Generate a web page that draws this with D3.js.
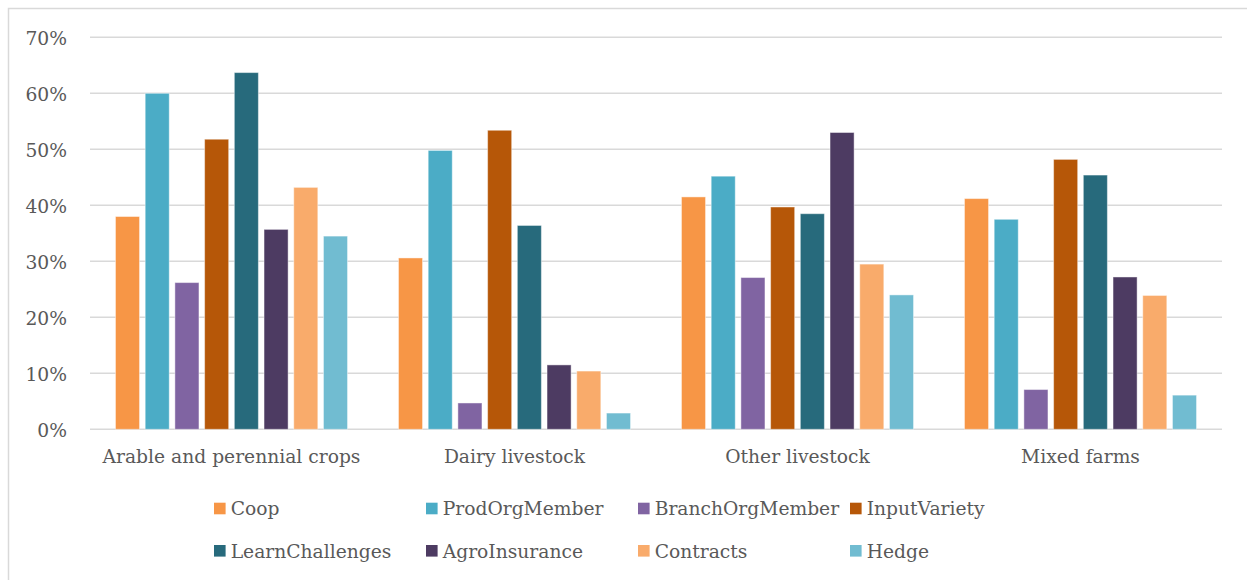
<!DOCTYPE html>
<html>
<head>
<meta charset="utf-8">
<script src="https://cdn.jsdelivr.net/npm/d3@7/dist/d3.min.js"></script>
<style>
  html, body { margin: 0; padding: 0; background: #fff; }
  svg text { font-family: "DejaVu Serif", serif; fill: #595959; }
</style>
</head>
<body>
<svg id="chart" width="1247" height="580"></svg>
<script>
// Farm types along the x axis
const categories = ["Arable and perennial crops", "Dairy livestock", "Other livestock", "Mixed farms"];

// Share of farms per indicator, one value per farm type
const seriesNames = ["Coop", "ProdOrgMember", "BranchOrgMember", "InputVariety",
                     "LearnChallenges", "AgroInsurance", "Contracts", "Hedge"];
const coop            = [0.380, 0.306, 0.415, 0.412];
const prodOrgMember   = [0.600, 0.498, 0.452, 0.375];
const branchOrgMember = [0.262, 0.047, 0.271, 0.071];
const inputVariety    = [0.518, 0.534, 0.397, 0.482];
const learnChallenges = [0.637, 0.364, 0.385, 0.454];
const agroInsurance   = [0.357, 0.115, 0.530, 0.272];
const contracts       = [0.432, 0.104, 0.295, 0.239];
const hedge           = [0.345, 0.029, 0.240, 0.061];
const seriesValues = [coop, prodOrgMember, branchOrgMember, inputVariety,
                      learnChallenges, agroInsurance, contracts, hedge];

const yTicks = [0, 0.1, 0.2, 0.3, 0.4, 0.5, 0.6, 0.7];
const colors = ["#F79646", "#4BACC6", "#8064A2", "#B65708",
                "#276A7C", "#4D3B62", "#F9AB6B", "#71BCD1"];

const FONT = 18.7;
const svg = d3.select("#chart");

// outer chart frame
svg.append("rect")
  .attr("x", 8.5).attr("y", 8.5)
  .attr("width", 1260).attr("height", 600)
  .attr("fill", "none").attr("stroke", "#d9d9d9").attr("stroke-width", 1.5);

const plot = { left: 90, right: 1222, top: 37.3, bottom: 429.3 };

const x0 = d3.scaleBand()
  .domain(categories)
  .range([plot.left, plot.right])
  .paddingInner(0.18)
  .paddingOuter(0.09);

const x1 = d3.scaleBand()
  .domain(seriesNames)
  .range([0, x0.bandwidth()])
  .paddingInner(0.19)
  .paddingOuter(0);

const y = d3.scaleLinear()
  .domain([0, 0.7])
  .range([plot.bottom, plot.top]);

// gridlines
svg.append("g")
  .selectAll("line")
  .data(yTicks)
  .join("line")
  .attr("x1", plot.left).attr("x2", plot.right)
  .attr("y1", d => y(d)).attr("y2", d => y(d))
  .attr("stroke", "#d9d9d9").attr("stroke-width", 1.5);

// y axis labels
const yAxis = d3.axisLeft(y)
  .tickValues(yTicks)
  .tickFormat(d3.format(".0%"))
  .tickSize(0)
  .tickPadding(0);
const yg = svg.append("g")
  .attr("transform", `translate(67,0)`)
  .call(yAxis);
yg.select(".domain").remove();
yg.attr("font-family", null).attr("font-size", null);
yg.selectAll("text")
  .attr("font-size", FONT)
  .attr("fill", "#595959")
  .attr("dy", "0.36em");

// x axis category labels
const xAxis = d3.axisBottom(x0).tickSize(0).tickPadding(0);
const xg = svg.append("g")
  .attr("transform", `translate(0,${plot.bottom})`)
  .call(xAxis);
xg.select(".domain").remove();
xg.attr("font-family", null).attr("font-size", null);
xg.selectAll("text")
  .attr("font-size", FONT)
  .attr("fill", "#595959")
  .attr("y", 34)
  .attr("dy", 0);

// bars
const groups = svg.append("g")
  .selectAll("g")
  .data(categories)
  .join("g")
  .attr("transform", d => `translate(${x0(d)},0)`);

groups.selectAll("rect")
  .data((c, ci) => seriesNames.map((s, si) => ({ s, si, v: seriesValues[si][ci] })))
  .join("rect")
  .attr("x", d => x1(d.s))
  .attr("width", x1.bandwidth())
  .attr("y", d => y(d.v))
  .attr("height", d => y(0) - y(d.v))
  .attr("fill", d => colors[d.si])
  .attr("stroke", "#ffffff")
  .attr("stroke-opacity", 0.45)
  .attr("stroke-width", 1);

// legend: two rows of four
const legendCols = [214, 426, 638, 850];
const legendRows = [508.5, 550.8];
const legend = svg.append("g")
  .selectAll("g")
  .data(seriesNames)
  .join("g")
  .attr("transform", (d, i) => `translate(${legendCols[i % 4]},${legendRows[Math.floor(i / 4)]})`);

legend.append("rect")
  .attr("x", 0).attr("y", -5.8)
  .attr("width", 11.6).attr("height", 11.6)
  .attr("fill", (d, i) => colors[i]);

legend.append("text")
  .attr("x", 16.7)
  .attr("y", 0)
  .attr("dy", "0.36em")
  .attr("font-size", FONT)
  .text(d => d);
</script>
</body>
</html>
